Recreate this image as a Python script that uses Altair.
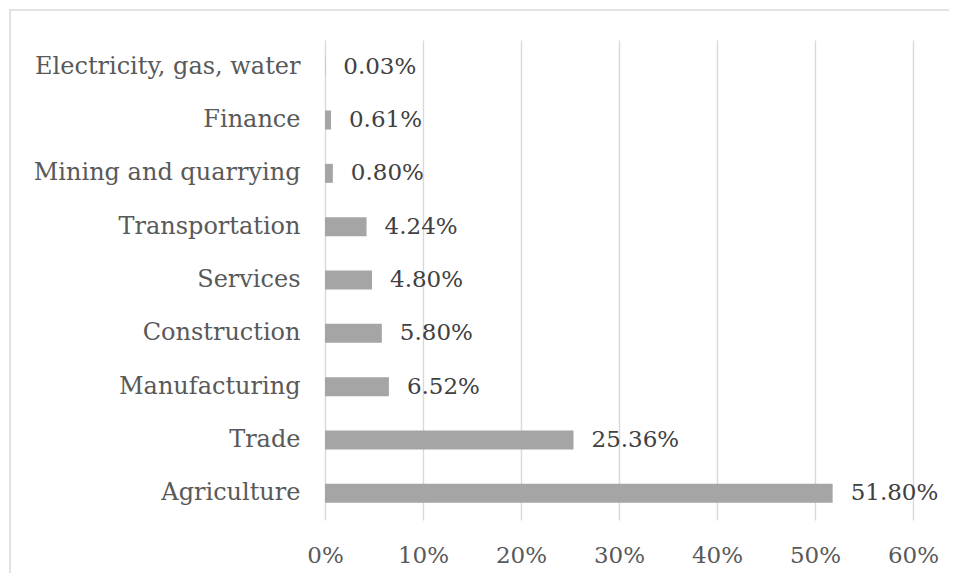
import altair as alt
import pandas as pd

sectors = ["Electricity, gas, water", "Finance", "Mining and quarrying", "Transportation",
           "Services", "Construction", "Manufacturing", "Trade", "Agriculture"]
shares = [0.03, 0.61, 0.80, 4.24, 4.80, 5.80, 6.52, 25.36, 51.80]
labels = ["0.03%", "0.61%", "0.80%", "4.24%", "4.80%", "5.80%", "6.52%", "25.36%", "51.80%"]

df = pd.DataFrame({"sector": sectors, "share": shares, "label": labels})

FONT = "DejaVu Serif"
W, H = 588, 480

y_enc = alt.Y("sector:N", sort=sectors, title=None,
              axis=alt.Axis(labelFont=FONT, labelFontSize=24, labelColor="#595959",
                            labelPadding=25, domain=False, ticks=False, grid=False,
                            labelLimit=400))
x_enc = alt.X("share:Q", title=None,
              scale=alt.Scale(domain=[0, 60], nice=False),
              axis=alt.Axis(values=[0, 10, 20, 30, 40, 50, 60],
                            labelExpr="datum.value + '%'", labelFlush=False,
                            labelFont=FONT, labelFontSize=23, labelColor="#595959",
                            labelPadding=24, domain=False, ticks=False,
                            grid=True, gridColor="#D9D9D9", gridWidth=1.4))

border = alt.Chart(df).mark_rect(fill=None, stroke="#D9D9D9", strokeWidth=1.5).encode(
    x=alt.value(-315), x2=alt.value(W + 200), y=alt.value(-30), y2=alt.value(H + 200)
).transform_filter(alt.datum.sector == "Agriculture")

bars = alt.Chart(df).mark_bar(size=19, color="#A5A5A5").encode(x=x_enc, y=y_enc)

text = alt.Chart(df).mark_text(align="left", baseline="middle", dx=18,
                               font=FONT, fontSize=23, color="#404040").encode(
    x="share:Q", y=alt.Y("sector:N", sort=sectors), text="label:N")

chart = alt.layer(border, bars, text).properties(
    width=W, height=H,
    autosize=alt.AutoSizeParams(type="none"),
    padding={"left": 317, "top": 32, "right": 36, "bottom": 53},
).configure_view(stroke=None)

chart.save("out.html", embed_options={"renderer": "svg", "actions": False})
